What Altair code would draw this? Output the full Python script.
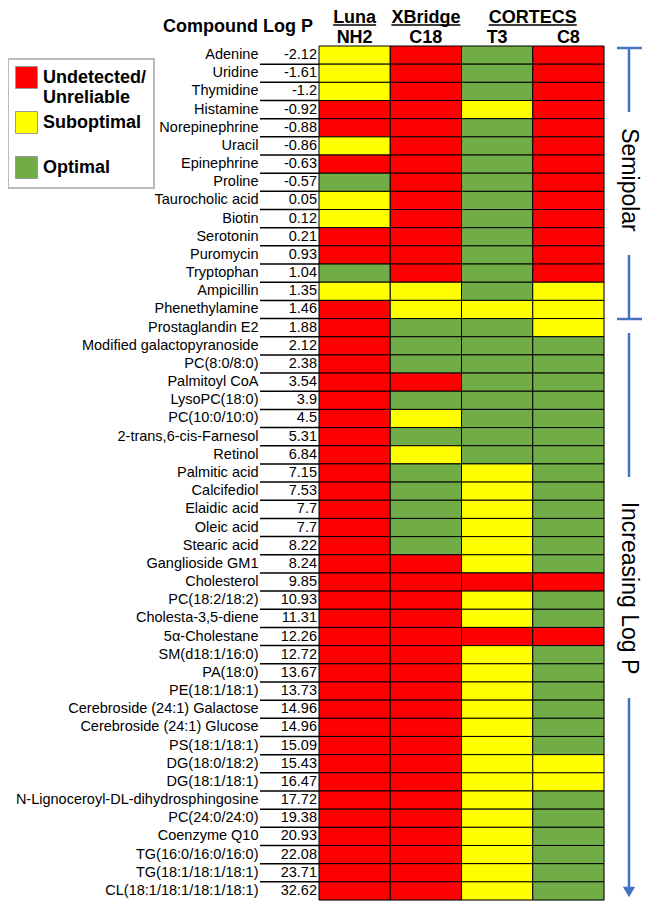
import altair as alt
import pandas as pd

FONT = "Liberation Sans"

compounds = [
    "Adenine", "Uridine", "Thymidine", "Histamine", "Norepinephrine",
    "Uracil", "Epinephrine", "Proline", "Taurocholic acid", "Biotin",
    "Serotonin", "Puromycin", "Tryptophan", "Ampicillin", "Phenethylamine",
    "Prostaglandin E2", "Modified galactopyranoside", "PC(8:0/8:0)", "Palmitoyl CoA", "LysoPC(18:0)",
    "PC(10:0/10:0)", "2-trans,6-cis-Farnesol", "Retinol", "Palmitic acid", "Calcifediol",
    "Elaidic acid", "Oleic acid", "Stearic acid", "Ganglioside GM1", "Cholesterol",
    "PC(18:2/18:2)", "Cholesta-3,5-diene", "5\u03b1-Cholestane", "SM(d18:1/16:0)", "PA(18:0)",
    "PE(18:1/18:1)", "Cerebroside (24:1) Galactose", "Cerebroside (24:1) Glucose", "PS(18:1/18:1)", "DG(18:0/18:2)",
    "DG(18:1/18:1)", "N-Lignoceroyl-DL-dihydrosphingosine", "PC(24:0/24:0)", "Coenzyme Q10", "TG(16:0/16:0/16:0)",
    "TG(18:1/18:1/18:1)", "CL(18:1/18:1/18:1/18:1)",
]
log_p = [
    "-2.12", "-1.61", "-1.2", "-0.92", "-0.88",
    "-0.86", "-0.63", "-0.57", "0.05", "0.12",
    "0.21", "0.93", "1.04", "1.35", "1.46",
    "1.88", "2.12", "2.38", "3.54", "3.9",
    "4.5", "5.31", "6.84", "7.15", "7.53",
    "7.7", "7.7", "8.22", "8.24", "9.85",
    "10.93", "11.31", "12.26", "12.72", "13.67",
    "13.73", "14.96", "14.96", "15.09", "15.43",
    "16.47", "17.72", "19.38", "20.93", "22.08",
    "23.71", "32.62",
]
# R = Undetected/Unreliable, Y = Suboptimal, G = Optimal (rows in groups of five)
nh2 = "YYYRR" "YRGYY" "RRGYR" "RRRRR" "RRRRR" "RRRRR" "RRRRR" "RRRRR" "RRRRR" "RR"
c18 = "RRRRR" "RRRRR" "RRRYY" "GGGRG" "YGYGG" "GGGRR" "RRRRR" "RRRRR" "RRRRR" "RR"
t3 = "GGGYG" "GGGGG" "GGGGY" "GGGGG" "GGGYY" "YYYYR" "YYRYY" "YYYYY" "YYYYY" "YY"
c8 = "RRRRR" "RRRRR" "RRRYY" "YGGGG" "GGGGG" "GGGGR" "GGRGG" "GGGGY" "YGGGG" "GG"

columns = ["NH2", "C18", "T3", "C8"]
column_codes = [nh2, c18, t3, c8]
status_names = {"R": "Undetected/Unreliable", "Y": "Suboptimal", "G": "Optimal"}
status_domain = ["Undetected/Unreliable", "Suboptimal", "Optimal"]
status_colors = ["#FF0000", "#FFFF00", "#70AD47"]

groups = ["Luna", "XBridge", "CORTECS"]

# ---- tables built from the arrays ----
cells = pd.DataFrame(
    [
        {"compound": comp, "column": col, "status": status_names[codes[i]]}
        for col, codes in zip(columns, column_codes)
        for i, comp in enumerate(compounds)
    ]
)
rows = pd.DataFrame({"compound": compounds, "logp": log_p})
underline_rows = rows.iloc[:-1]
one = pd.DataFrame({"k": [0]})

# ---- layout ----
W, H = 285, 854
col_w = W / len(columns)
BLUE = "#4472C4"

y_scale = alt.Scale(domain=compounds, paddingInner=0, paddingOuter=0)
x_scale = alt.Scale(domain=columns, paddingInner=0, paddingOuter=0)
y_axis = alt.Axis(
    title=None, domain=False, ticks=False, tickSize=0, labelPadding=61,
    labelFontSize=14.5, labelLimit=400, labelColor="black", labelFont=FONT,
)


def Y(**kw):
    return alt.Y("compound:N", scale=y_scale, axis=y_axis, **kw)


legend_label_expr = (
    "datum.label == 'Undetected/Unreliable' ? ['Undetected/', 'Unreliable'] : "
    "datum.label == 'Suboptimal' ? ['Suboptimal', ''] : datum.label"
)

rects = alt.Chart(cells).mark_rect(stroke="black", strokeWidth=1).encode(
    x=alt.X(
        "column:N", scale=x_scale,
        axis=alt.Axis(
            orient="top", title=None, domain=False, ticks=False, tickSize=0,
            labelAngle=0, labelFontSize=18, labelFontWeight="bold", labelFont=FONT,
            labelPadding=4, labelBaseline="alphabetic", labelColor="black",
        ),
    ),
    y=Y(),
    color=alt.Color(
        "status:N",
        scale=alt.Scale(domain=status_domain, range=status_colors),
        legend=alt.Legend(
            title=None, orient="none", legendX=-311, legendY=13, direction="vertical",
            symbolType="square", symbolSize=484, symbolOpacity=1,
            symbolStrokeColor="#999999", symbolStrokeWidth=1,
            labelFontSize=18, labelFontWeight="bold", labelFont=FONT, labelColor="black",
            labelOffset=5, labelLimit=200,
            labelExpr=legend_label_expr,
            padding=7, strokeColor="#bbbbbb", rowPadding=2,
        ),
    ),
)

logp_text = alt.Chart(rows).mark_text(
    align="right", baseline="middle", fontSize=14.5, font=FONT, color="black"
).encode(x=alt.value(-2), y=Y(), text="logp:N")

underlines = alt.Chart(underline_rows).mark_rule(color="black", strokeWidth=1.5).encode(
    x=alt.value(-59), x2=alt.value(0), y=Y(bandPosition=1)
)

layers = [rects, logp_text, underlines]

# ---- header texts ----
layers.append(
    alt.Chart(one).mark_text(
        text="Compound Log P", align="right", baseline="middle",
        fontSize=18, fontWeight="bold", font=FONT, color="black",
    ).encode(x=alt.value(-6), y=alt.value(-19))
)
group_centers = [0.5 * col_w, 1.5 * col_w, 3.0 * col_w]
group_widths = [43, 69, 88]
for name, cx, gw in zip(groups, group_centers, group_widths):
    layers.append(
        alt.Chart(one).mark_text(
            text=name, align="center", baseline="alphabetic",
            fontSize=18, fontWeight="bold", font=FONT, color="black",
        ).encode(x=alt.value(cx), y=alt.value(-23))
    )
    layers.append(
        alt.Chart(one).mark_rule(color="black", strokeWidth=1.5).encode(
            x=alt.value(cx - gw / 2), x2=alt.value(cx + gw / 2), y=alt.value(-21)
        )
    )

# ---- right-hand bracket and arrow ----
BX = 310
rule_segments = [
    (BX - 12, BX + 13, 2, 2),      # top cap
    (BX, BX, 2, 66),               # upper line
    (BX, BX, 209, 273),            # lower line
    (BX - 12, BX + 13, 273, 273),  # bottom cap
    (BX, BX, 287, 431),            # increasing line upper
    (BX, BX, 652, 842),            # arrow shaft
]
for x1, x2, y1, y2 in rule_segments:
    layers.append(
        alt.Chart(one).mark_rule(color=BLUE, strokeWidth=2.5).encode(
            x=alt.value(x1), x2=alt.value(x2), y=alt.value(y1), y2=alt.value(y2)
        )
    )
layers.append(
    alt.Chart(one).mark_point(shape="triangle-down", filled=True, size=150, color=BLUE, opacity=1).encode(
        x=alt.value(BX), y=alt.value(846)
    )
)
for label, cy in [("Semipolar", 134), ("Increasing Log P", 542)]:
    layers.append(
        alt.Chart(one).mark_text(
            text=label, angle=90, align="center", baseline="middle",
            fontSize=23, font=FONT, color="black",
        ).encode(x=alt.value(BX), y=alt.value(cy))
    )

chart = alt.layer(*layers).properties(
    width=W, height=H,
    autosize=alt.AutoSizeParams(type="none"),
    padding={"left": 311, "top": 38, "right": 39, "bottom": 1},
).configure_view(stroke=None).configure(font=FONT).configure_legend(strokeWidth=2)

chart.save("out.html", embed_options={"renderer": "svg", "actions": False})
